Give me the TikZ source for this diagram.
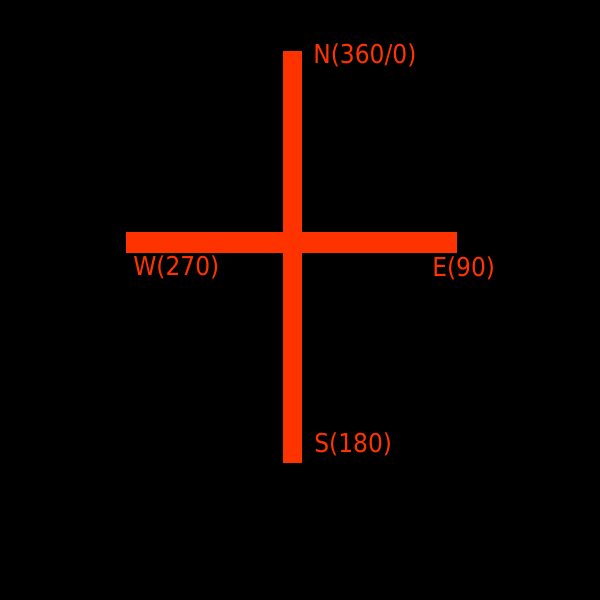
\documentclass[tikz,border=0pt]{standalone}
\usepackage{fontspec}
\setmainfont{DejaVu Sans Condensed}
\definecolor{compass}{HTML}{FF3300}

\begin{document}
\begin{tikzpicture}[
    x=0.02cm, y=-0.02cm,
    bar/.style={fill=compass, draw=none},
    heading/.style={anchor=base west, inner sep=0pt, text=compass, font=\fontsize{14.8}{17}\selectfont}
]

% background
\fill[black] (0,0) rectangle (600,600);

% cross
\fill[bar] (283,51) rectangle (302,463);
\fill[bar] (126,232) rectangle (457,253);

% headings
\node[heading] (north) at (313,63) {N(360/0)};
\node[heading] (west) at (133,275) {W(270)};
\node[heading] (east) at (432,276) {E(90)};
\node[heading] (south) at (314,452) {S(180)};

\end{tikzpicture}
\end{document}
